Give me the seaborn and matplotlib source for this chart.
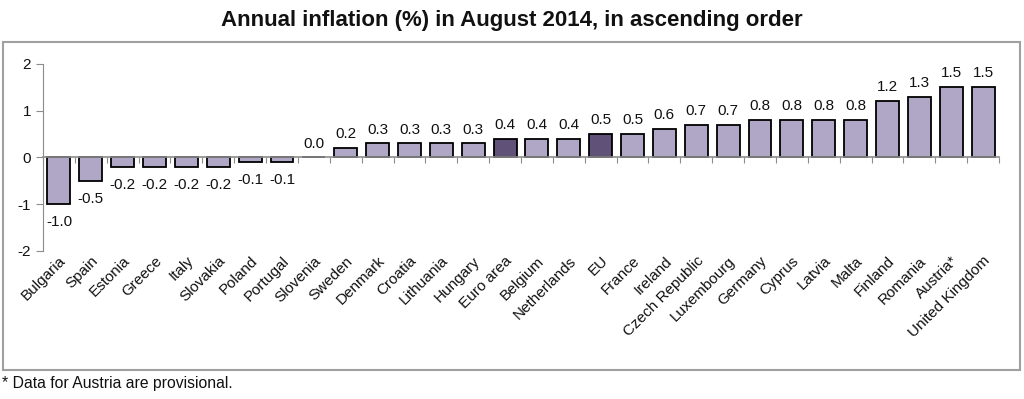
import matplotlib
matplotlib.use("Agg")
import matplotlib.pyplot as plt
import seaborn as sns
import pandas as pd
import numpy as np

countries = ["Bulgaria", "Spain", "Estonia", "Greece", "Italy", "Slovakia", "Poland",
             "Portugal", "Slovenia", "Sweden", "Denmark", "Croatia", "Lithuania", "Hungary",
             "Euro area", "Belgium", "Netherlands", "EU", "France", "Ireland",
             "Czech Republic", "Luxembourg", "Germany", "Cyprus", "Latvia", "Malta",
             "Finland", "Romania", "Austria*", "United Kingdom"]
inflation = [-1.0, -0.5, -0.2, -0.2, -0.2, -0.2, -0.1, -0.1, 0.0, 0.2, 0.3, 0.3, 0.3, 0.3,
             0.4, 0.4, 0.4, 0.5, 0.5, 0.6, 0.7, 0.7, 0.8, 0.8, 0.8, 0.8, 1.2, 1.3, 1.5, 1.5]
aggregates = ["Euro area", "EU"]
y_ticks = [-2, -1, 0, 1, 2]

light = "#aea1cb"
dark = "#5d4a7f"

df = pd.DataFrame({"country": countries, "value": inflation})
df["group"] = np.where(df["country"].isin(aggregates), "agg", "member")

sns.set_style("white")
plt.rcParams["font.family"] = ["Liberation Sans", "DejaVu Sans"]
plt.rcParams["axes.unicode_minus"] = False

fig = plt.figure(figsize=(10.24, 3.99), dpi=100)
ax = fig.add_axes([0.042, 0.371, 0.9336, 0.4686])

sns.barplot(data=df, x="country", y="value", hue="group",
            palette={"member": light, "agg": dark}, order=countries,
            dodge=False, width=0.72, edgecolor="black", linewidth=1.3,
            legend=False, ax=ax)

for i, v in enumerate(inflation):
    if v < 0:
        ax.annotate(f"{v:.1f}", (i, v), xytext=(0, -8), textcoords="offset points",
                    ha="center", va="top", fontsize=11, color="#111111")
    else:
        ax.annotate(f"{v:.1f}", (i, v), xytext=(0, 5), textcoords="offset points",
                    ha="center", va="bottom", fontsize=11, color="#111111")

ax.set_ylim(-2, 2)
ax.set_yticks(y_ticks)
ax.set_xlim(-0.5, len(countries) - 0.5)
ax.set_xlabel("")
ax.set_ylabel("")
for s in ["top", "right", "bottom"]:
    ax.spines[s].set_visible(False)
ax.spines["left"].set_color("#8c8c8c")
ax.tick_params(axis="y", direction="out", length=5, color="#8c8c8c",
               labelsize=11, labelcolor="#111111", left=True)
ax.tick_params(axis="x", length=0, labelsize=11, labelcolor="#111111", pad=2)
plt.setp(ax.get_xticklabels(), rotation=45, ha="right", rotation_mode="anchor")

# zero line with category tick marks
ax2 = ax.twiny()
ax2.set_xlim(ax.get_xlim())
for s in ["top", "right", "left"]:
    ax2.spines[s].set_visible(False)
ax2.spines["bottom"].set_position(("data", 0))
ax2.spines["bottom"].set_color("#8c8c8c")
ax2.spines["bottom"].set_linewidth(1.2)
ax2.xaxis.set_ticks_position("bottom")
ax2.set_xticks(np.arange(len(countries) + 1) - 0.5)
ax2.set_xticklabels([])
ax2.tick_params(axis="x", direction="out", length=4, color="#8c8c8c")
ax2.set_zorder(ax.get_zorder() + 1)
ax2.patch.set_visible(False)

fig.text(0.5, 0.948, "Annual inflation (%) in August 2014, in ascending order",
         ha="center", va="center", fontsize=16, fontweight="bold", color="#111111")
fig.patches.append(plt.Rectangle((0.003, 0.073), 0.993, 0.822, transform=fig.transFigure,
                                 fill=False, edgecolor="#a0a0a0", linewidth=1.5))
fig.text(0.002, 0.038, "* Data for Austria are provisional.", ha="left", va="center",
         fontsize=11.3, color="#111111")

fig.savefig("out.png", dpi=100)
